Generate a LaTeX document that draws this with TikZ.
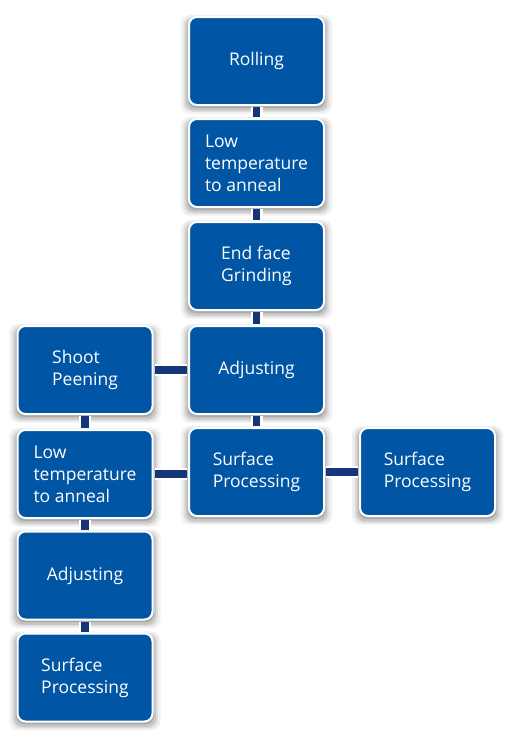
\documentclass[tikz,border=0pt]{standalone}
\usepackage{fontspec}
\setmainfont{Open Sans}
\usetikzlibrary{shadows}
\definecolor{boxblue}{HTML}{0055A4}
\definecolor{connavy}{HTML}{16367A}
\tikzset{
  stepbox/.style={
    draw=white, line width=2pt, fill=boxblue, rounded corners=8pt,
    minimum width=135pt, minimum height=88pt, inner sep=0pt,
    text=white, align=left, font=\fontsize{17.5}{22}\selectfont,
    drop shadow={shadow xshift=0pt, shadow yshift=-3pt, shadow scale=1.12, opacity=0.06, fill=black},
    drop shadow={shadow xshift=0pt, shadow yshift=-3pt, shadow scale=1.08, opacity=0.08, fill=black},
    drop shadow={shadow xshift=0pt, shadow yshift=-3pt, shadow scale=1.05, opacity=0.10, fill=black},
    drop shadow={shadow xshift=0pt, shadow yshift=-2pt, shadow scale=1.02, opacity=0.14, fill=black}
  },
  link/.style={line width=12pt, white, shorten <=1pt, shorten >=1pt,
    postaction={draw=connavy, line width=7.5pt}}
}
\begin{document}
\begin{tikzpicture}[x=1pt,y=-1pt]
\useasboundingbox[fill=white] (0,0) rectangle (513,740);
\node[stepbox] (roll)  at (256.5,61)  {Rolling};
\node[stepbox] (low1)  at (256.5,163) {Low\\temperature\\to anneal};
\node[stepbox] (end)   at (256.5,266) {End face\\Grinding};
\node[stepbox] (adj1)  at (256.5,370) {Adjusting};
\node[stepbox] (surf1) at (256.5,472) {Surface\\Processing};
\node[stepbox] (surf3) at (427.5,472) {Surface\\Processing};
\node[stepbox] (shoot) at (85,370)    {Shoot\\Peening};
\node[stepbox] (low2)  at (85,474)    {Low\\temperature\\to anneal};
\node[stepbox] (adj2)  at (85,575.5)  {Adjusting};
\node[stepbox] (surf2) at (85,677.5)  {Surface\\Processing};
\draw[link] (roll.south) -- (low1.north);
\draw[link] (low1.south) -- (end.north);
\draw[link] (end.south) -- (adj1.north);
\draw[link] (adj1.south) -- (surf1.north);
\draw[link] (surf1.east) -- (surf3.west);
\draw[link] (shoot.east) -- (adj1.west);
\draw[link] (low2.east) -- (low2.east -| surf1.west);
\draw[link] (shoot.south) -- (low2.north);
\draw[link] (low2.south) -- (adj2.north);
\draw[link] (adj2.south) -- (surf2.north);
\end{tikzpicture}
\end{document}
